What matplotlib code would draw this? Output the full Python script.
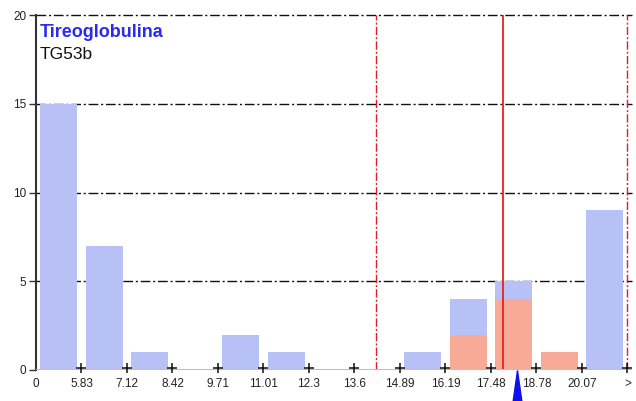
import numpy as np
import matplotlib
matplotlib.use('Agg')
import matplotlib.pyplot as plt
from matplotlib.path import Path

# bin edge labels (13 bins, last one open ended)
edge_labels = ['0', '5.83', '7.12', '8.42', '9.71', '11.01', '12.3', '13.6',
               '14.89', '16.19', '17.48', '18.78', '20.07', '>']
# counts per bin
blue_counts = [15, 7, 1, 0, 2, 1, 0, 0, 1, 4, 5, 0, 9]
red_counts = [0, 0, 0, 0, 0, 0, 0, 0, 0, 2, 4, 1, 0]
# vertical markers, in bin-index units
dashdot_lines = [7.47, 13.0]
solid_line = 10.26
arrow_pos = 10.57

title = 'Tireoglobulina'
subtitle = 'TG53b'

plt.rcParams['font.family'] = ['Liberation Sans', 'DejaVu Sans']

fig = plt.figure(figsize=(6.36, 4.01), dpi=100)
ax = fig.add_axes([36/636, 31/401, 596/636, 355/401])

centers = np.arange(len(blue_counts)) + 0.5
ax.bar(centers, blue_counts, width=0.81, color='#b8c1f5', zorder=2)
ax.bar(centers, red_counts, width=0.81, color='#f8aa98', zorder=3)

# horizontal dash-dot grid
for yv in [5, 10, 15, 20]:
    ax.axhline(yv, color='#111111', lw=1.0, ls=(0, (7, 2, 1.5, 2)), zorder=1, clip_on=False)

for xv in dashdot_lines:
    ax.axvline(xv, color='#e02020', lw=1.0, ls=(0, (6, 1.5, 1.5, 1.5)), zorder=4)
ax.axvline(solid_line, color='#e82020', lw=1.3, zorder=4)

# baseline
ax.axhline(0, color='#f8aa98', lw=1.5, zorder=4)

# '+' marks at bin edges
edges = np.arange(len(edge_labels))
ax.plot(edges[1:], np.full(len(edges) - 1, 0.1), ls='none', marker='+', ms=7,
        mew=1.1, color='#111111', zorder=5, clip_on=False)

# blue arrow under the axis
arrow = Path([(0, 1), (0.22, -0.55), (0.4, -1), (0.08, -0.75), (0, -0.9),
              (-0.08, -0.75), (-0.4, -1), (-0.22, -0.55), (0, 1)])
ax.plot([arrow_pos], [-1.2], marker=arrow, ms=30, color='#1010ee', mec='#1010ee',
        clip_on=False, zorder=6)

ax.set_xlim(0, 13.1)
ax.set_ylim(0, 20)
ax.set_xticks(edges)
ax.set_xticklabels(edge_labels, fontsize=8.5, color='#222222')
ax.tick_params(axis='x', length=0, pad=6)
ax.set_yticks([0, 5, 10, 15, 20])
ax.tick_params(axis='y', length=5, width=1, color='#333333', labelsize=8.5,
               labelcolor='#222222', pad=2)

for s in ['top', 'right', 'bottom']:
    ax.spines[s].set_visible(False)
ax.spines['left'].set_color('#333333')
ax.spines['left'].set_linewidth(1.5)

ax.text(0.08, 19.0, title, color='#2a2af0', fontsize=13, fontweight='bold', va='center')
ax.text(0.08, 17.75, subtitle, color='#111111', fontsize=12.5, va='center')

fig.savefig('out.png', dpi=100)
